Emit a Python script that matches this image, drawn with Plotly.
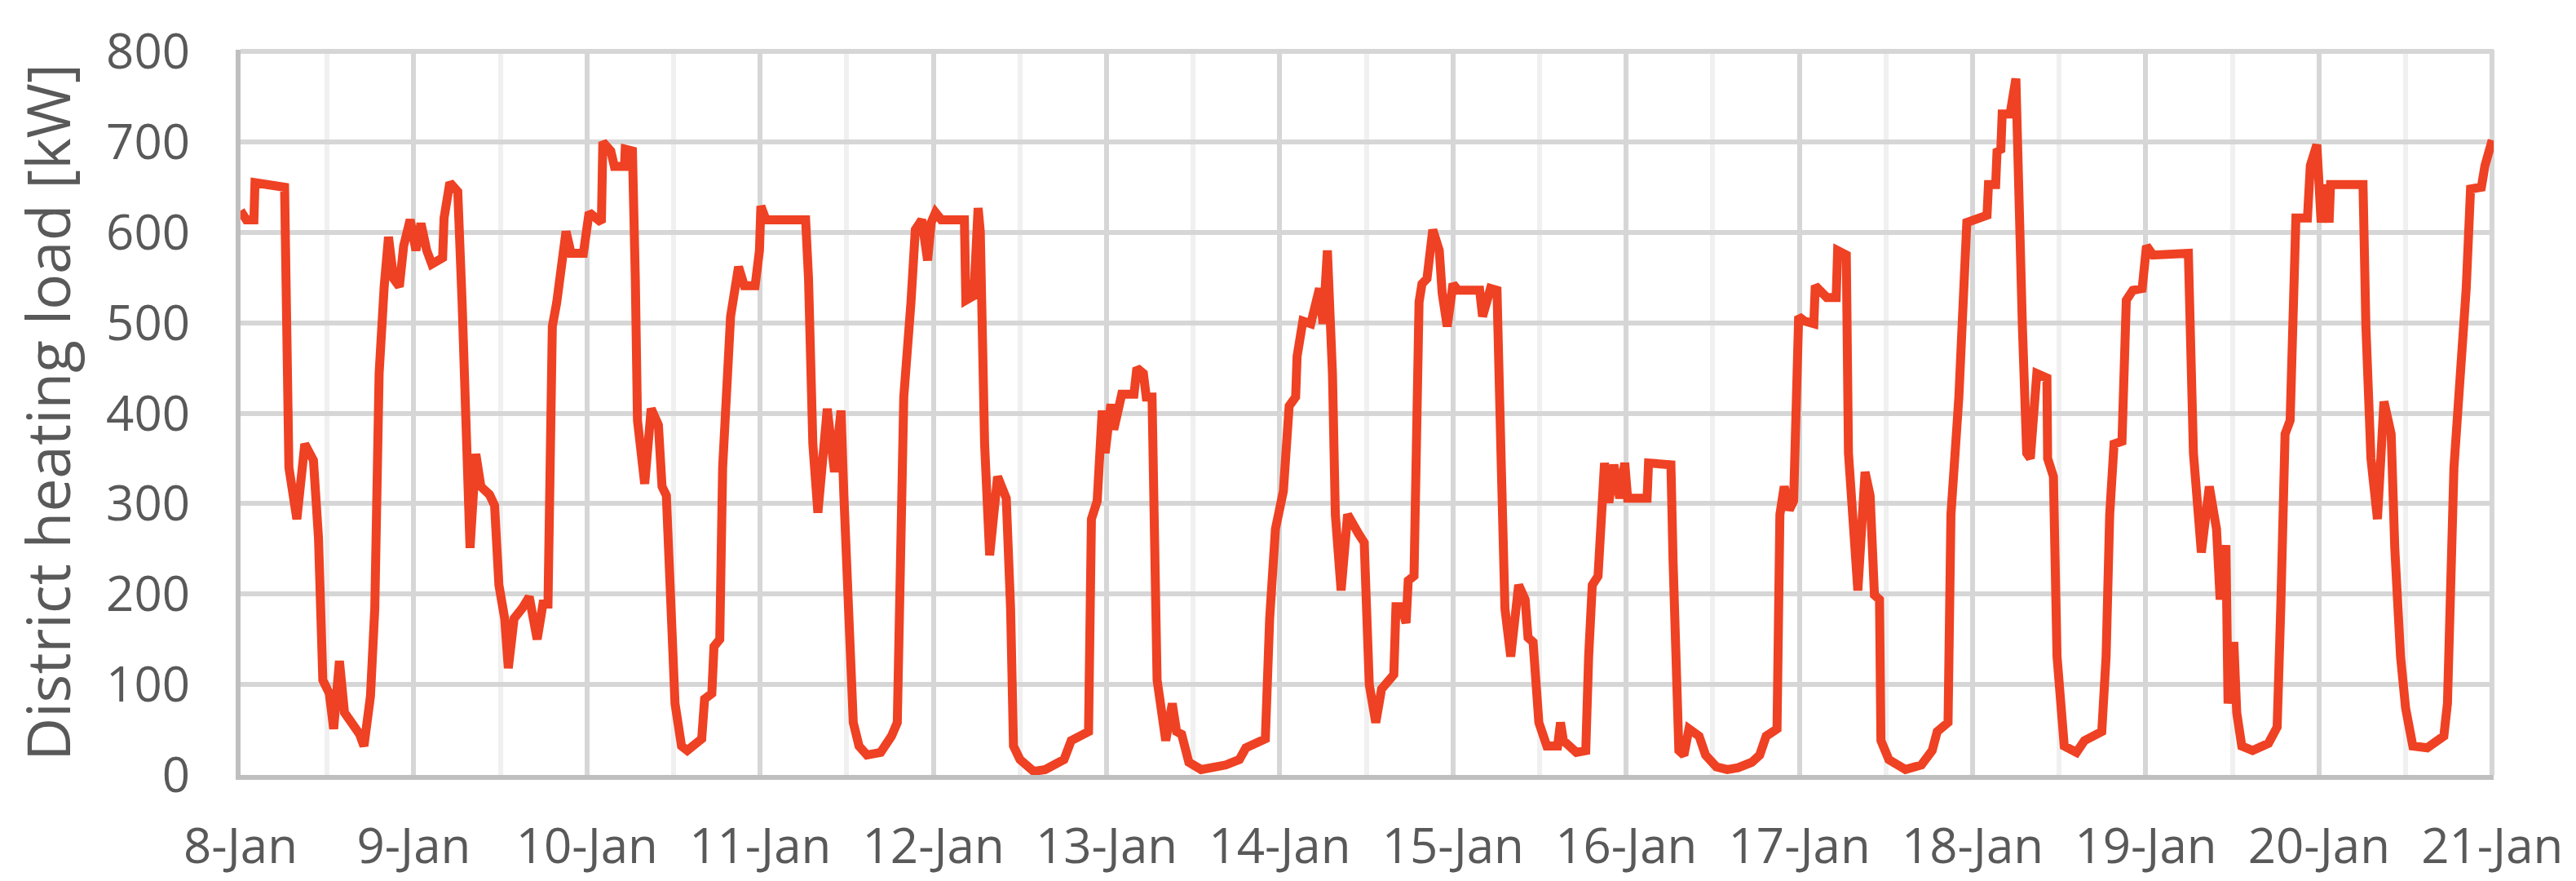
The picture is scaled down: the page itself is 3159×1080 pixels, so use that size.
import pandas as pd
import plotly.graph_objects as go

# hours since 8-Jan 00:00 and district heating load [kW]
hours = [
    0.0, 0.8, 1.85, 2.0, 6.1, 6.7, 7.8, 8.9, 10.1, 10.8, 11.4, 12.3, 12.9, 13.7, 14.4, 15.6,
    16.5, 17.1, 18.0, 18.6, 19.2, 19.9, 20.5, 21.2, 22.0, 22.6, 23.5, 24.3, 25.0, 25.8, 26.5,
    28.0, 28.2, 29.0, 30.1, 30.7, 31.1, 31.8, 32.6, 33.3, 34.5, 35.2, 35.8, 36.6, 37.1, 37.9,
    39.0, 40.0, 41.1, 41.9, 42.6, 43.2, 43.8, 45.1, 45.8, 47.5, 48.3, 50.0, 50.2, 51.3, 51.8,
    53.2, 53.3, 54.3, 54.7, 55.0, 56.0, 56.9, 57.9, 58.4, 59.0, 59.4, 60.2, 61.1, 61.9, 63.9,
    64.3, 65.3, 65.6, 66.4, 66.8, 67.9, 69.0, 69.8, 71.3, 71.9, 72.1, 72.8, 78.3, 78.7, 79.3,
    80.0, 81.3, 82.3, 83.2, 83.6, 84.2, 84.9, 85.7, 86.8, 88.7, 90.2, 91.0, 91.4, 91.9, 92.9,
    93.5, 94.4, 95.2, 95.7, 96.3, 97.1, 100.3, 100.5, 101.6, 102.2, 102.5, 103.1, 103.8, 104.9,
    106.1, 106.7, 107.1, 108.0, 109.9, 111.5, 114.1, 115.1, 117.5, 117.9, 118.7, 119.4, 119.8,
    120.6, 121.0, 122.1, 123.8, 124.2, 125.1, 125.5, 126.3, 127.0, 128.2, 129.1, 129.7, 130.4,
    131.4, 133.1, 136.5, 138.4, 139.3, 142.0, 142.6, 143.4, 144.5, 145.3, 146.2, 146.4, 147.2,
    148.3, 149.5, 150.0, 150.6, 151.3, 151.7, 152.5, 153.4, 154.9, 155.7, 156.4, 157.3, 158.1,
    159.8, 160.1, 160.9, 161.5, 161.8, 162.6, 162.9, 163.3, 163.7, 164.4, 165.2, 166.1, 166.5,
    167.2, 168.0, 168.7, 171.7, 172.1, 173.2, 174.1, 174.7, 175.2, 176.0, 177.1, 178.0, 178.4,
    179.1, 179.9, 181.0, 182.5, 182.9, 183.3, 185.1, 186.4, 186.8, 187.3, 188.1, 188.6, 189.0,
    189.6, 190.3, 191.1, 191.8, 192.2, 194.9, 195.1, 198.2, 198.5, 199.3, 200.0, 200.7, 202.1,
    203.0, 204.5, 206.0, 207.5, 209.4, 210.5, 211.4, 212.9, 213.3, 213.9, 214.6, 215.2, 215.9,
    216.7, 218.0, 218.2, 219.8, 221.1, 221.3, 222.5, 222.8, 224.1, 225.1, 225.8, 226.4, 227.1,
    227.3, 228.4, 230.7, 232.9, 234.4, 235.1, 236.6, 237.0, 237.6, 238.1, 239.2, 240.7, 242.0,
    242.2, 243.2, 243.4, 243.9, 244.1, 245.2, 246.0, 246.3, 246.9, 247.5, 248.0, 248.9, 250.3,
    250.4, 251.2, 251.7, 252.7, 254.4, 255.5, 257.9, 258.5, 259.0, 259.6, 260.7, 261.3, 262.2,
    263.5, 264.1, 265.0, 269.9, 270.2, 270.6, 271.7, 272.8, 273.8, 274.3, 275.1, 275.4, 276.2,
    276.6, 277.3, 278.8, 281.0, 282.2, 282.7, 283.3, 284.0, 284.8, 286.4, 286.8, 287.7, 288.3,
    288.9, 289.4, 289.6, 294.1, 294.5, 295.2, 296.1, 297.0, 298.0, 298.5, 299.3, 300.0, 301.0,
    303.0, 305.3, 305.8, 306.7, 307.5, 308.4, 309.0, 310.5, 311.0, 312.0,
]
load_kw = [
    624, 614, 614, 655, 650, 340, 283, 366, 348, 262, 105, 90, 51, 126, 69, 53,
    45, 32, 87, 184, 444, 540, 595, 549, 540, 585, 614, 580, 610, 580, 565,
    572, 616, 655, 645, 522, 400, 251, 355, 319, 310, 298, 210, 173, 118, 173,
    184, 197, 150, 189, 189, 496, 522, 601, 577, 577, 622, 611, 700, 690, 673,
    673, 692, 690, 549, 392, 322, 405, 387, 319, 309, 210, 79, 32, 27, 40,
    84, 90, 142, 150, 340, 507, 562, 541, 541, 580, 629, 614, 614, 549, 366,
    290, 405, 335, 403, 309, 194, 58, 32, 22, 25, 43, 58, 236, 418, 523,
    603, 614, 569, 611, 622, 614, 614, 525, 530, 627, 601, 366, 243, 330,
    306, 184, 32, 17, 4, 6, 17, 38, 48, 283, 303, 403, 356,
    410, 382, 421, 421, 450, 444, 418, 418, 105, 38, 79, 48, 45,
    14, 6, 11, 17, 30, 40, 173, 272, 314, 408, 418, 463, 502,
    499, 538, 499, 580, 444, 288, 204, 288, 267, 257, 100, 58, 95,
    111, 186, 186, 168, 215, 220, 366, 523, 543, 549, 603, 580, 533,
    496, 543, 536, 536, 507, 538, 536, 340, 184, 131, 210, 194, 152,
    147, 58, 32, 32, 58, 38, 25, 27, 131, 210, 220, 304, 345,
    301, 343, 306, 345, 306, 306, 345, 343, 236, 27, 22, 51, 43,
    22, 9, 6, 8, 14, 22, 43, 51, 288, 319, 293, 303, 507,
    502, 499, 541, 528, 528, 580, 575, 356, 204, 335, 309, 199, 194,
    38, 17, 6, 11, 27, 48, 58, 288, 350, 418, 611, 616, 619,
    653, 653, 692, 689, 731, 731, 770, 653, 496, 356, 350, 444, 439,
    350, 330, 131, 32, 25, 38, 48, 131, 288, 366, 369, 525, 536,
    538, 585, 575, 577, 496, 356, 246, 319, 272, 194, 254, 79, 147,
    69, 32, 27, 35, 53, 184, 377, 392, 616, 616, 674, 697, 611,
    653, 611, 653, 653, 496, 350, 283, 413, 377, 251, 131, 74, 32,
    30, 43, 79, 340, 429, 538, 648, 650, 674, 702,
]

start = pd.Timestamp('2019-01-08')
end = pd.Timestamp('2019-01-21')
times = start + pd.to_timedelta(hours, unit='h')

fig = go.Figure()
fig.add_trace(go.Scatter(x=times, y=load_kw, mode='lines',
                         line=dict(color='#EF4123', width=11), hoverinfo='skip'))

fig.update_layout(
    width=3159, height=1080,
    margin=dict(l=287, r=109, t=38, b=129),
    plot_bgcolor='white', paper_bgcolor='white',
    showlegend=False,
    font=dict(family='Open Sans', size=60, color='#595959'),
)

# a few minutes of slack so the 21-Jan gridline is drawn as the right border
fig.update_xaxes(
    type='date', range=[start, end + pd.Timedelta(minutes=12)],
    dtick=86400000, tickformat='%-d-%b',
    showgrid=True, gridcolor='#d6d6d6', gridwidth=6,
    minor=dict(dtick=43200000, showgrid=True, gridcolor='#f0f0f0', gridwidth=6),
    showline=True, linecolor='#bfbfbf', linewidth=6,
    ticks='', ticklabelstandoff=30, ticklabeloverflow='allow',
)

fig.update_yaxes(
    range=[0, 802], dtick=100,
    showgrid=True, gridcolor='#d6d6d6', gridwidth=6,
    showline=True, linecolor='#bfbfbf', linewidth=6,
    zeroline=False, ticks='', ticklabelstandoff=44, ticklabeloverflow='allow',
    title=dict(text='District heating load [kW]', font=dict(size=73), standoff=24),
)

fig.write_html("out.html")
